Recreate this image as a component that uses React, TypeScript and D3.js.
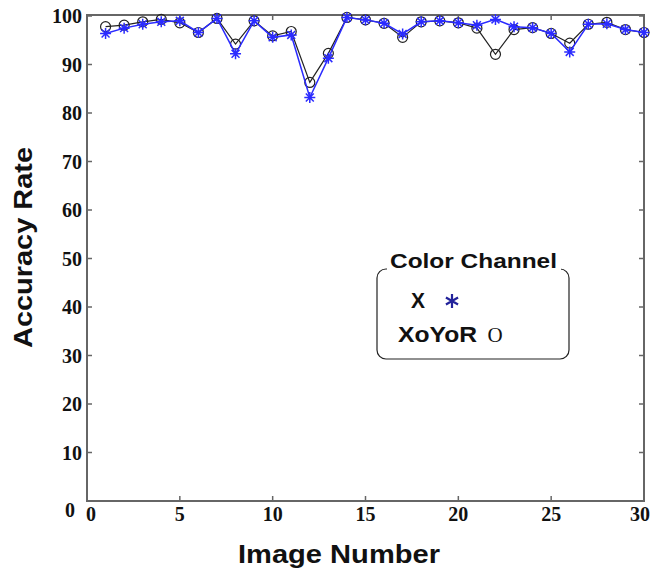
import * as d3 from "d3";

const imageNumbers = d3.range(1, 31);
// "X" colour channel (blue asterisks)
const xChannel = [96.4, 97.5, 98.3, 98.8, 99.0, 96.6, 99.5, 92.2, 99.0, 95.6, 96.1, 83.2, 91.3, 99.7, 99.2,
  98.5, 96.3, 98.8, 99.0, 98.6, 98.1, 99.3, 97.8, 97.6, 96.4, 92.6, 98.3, 98.4, 97.2, 96.6];
// "XoYoR" colour channel (black circles)
const xoyorChannel = [97.8, 98.1, 98.8, 99.3, 98.6, 96.6, 99.5, 94.2, 99.0, 95.9, 96.8, 86.3, 92.3, 99.7, 99.2,
  98.5, 95.6, 98.8, 99.0, 98.6, 97.5, 92.1, 97.2, 97.6, 96.4, 94.4, 98.3, 98.7, 97.2, 96.6];
const xTicks = [0, 5, 10, 15, 20, 25, 30];
const yTicks = [0, 10, 20, 30, 40, 50, 60, 70, 80, 90, 100];

const W = 651, H = 569;
const left = 87, right = 644, top = 15, bottom = 501;

const App = () => {
  const x = d3.scaleLinear().domain([0, 30]).range([left, right]);
  const y = d3.scaleLinear().domain([0, 100]).range([bottom, top + 1]);

  const line = d3.line<number>()
    .x((_, i) => x(imageNumbers[i]))
    .y((d) => y(d));

  const blue = "#2b2bff";
  const axisColor = "#666";
  const tick = 5;

  // matlab style '*' marker: plus + cross
  const star = (cx: number, cy: number, r: number) => {
    const d = r * 0.72;
    return `M${cx - r},${cy}L${cx + r},${cy}M${cx},${cy - r}L${cx},${cy + r}` +
      `M${cx - d},${cy - d}L${cx + d},${cy + d}M${cx - d},${cy + d}L${cx + d},${cy - d}`;
  };
  // six armed asterisk used in the legend
  const asterisk = (cx: number, cy: number, r: number) => {
    const a = r * Math.cos(Math.PI / 6), b = r * Math.sin(Math.PI / 6);
    return `M${cx},${cy - r}L${cx},${cy + r}M${cx - a},${cy - b}L${cx + a},${cy + b}M${cx - a},${cy + b}L${cx + a},${cy - b}`;
  };

  return (
    <svg width={W} height={H} style={{ position: "absolute", left: 0, top: 0, background: "#fff" }}>
      {/* ticks on all four sides */}
      {yTicks.map((t) => (
        <g key={"y" + t} stroke={axisColor} strokeWidth={1.5}>
          <line x1={left} x2={left + tick} y1={y(t)} y2={y(t)} />
          <line x1={right} x2={right - tick} y1={y(t)} y2={y(t)} />
        </g>
      ))}
      {xTicks.map((t) => (
        <g key={"x" + t} stroke={axisColor} strokeWidth={1.5}>
          <line x1={x(t)} x2={x(t)} y1={bottom} y2={bottom - tick} />
          <line x1={x(t)} x2={x(t)} y1={top} y2={top + tick} />
        </g>
      ))}
      <rect x={left} y={top} width={right - left} height={bottom - top} fill="none" stroke={axisColor} strokeWidth={2} />

      {/* tick labels */}
      <g fontFamily="'Liberation Serif', 'Times New Roman', serif" fontWeight="bold" fontSize={20} fill="#111">
        {yTicks.map((t) => (
          <text key={"yl" + t} x={t === 0 ? 75 : 82} y={y(t) + (t === 0 ? 16 : 7)} textAnchor="end">
            {t}
          </text>
        ))}
        {xTicks.map((t) => (
          <text key={"xl" + t} x={x(t) + (t === 0 ? 4 : t === 30 ? -4 : 0)} y={521} textAnchor="middle">
            {t}
          </text>
        ))}
      </g>

      {/* axis titles */}
      <text x={238} y={563} fontFamily="'Liberation Sans', Arial, sans-serif" fontWeight="bold" fontSize={26}
        textLength={202} lengthAdjust="spacingAndGlyphs" fill="#111">
        Image Number
      </text>
      <text transform={`translate(32,348) rotate(-90)`} fontFamily="'Liberation Sans', Arial, sans-serif"
        fontWeight="bold" fontSize={26} textLength={201} lengthAdjust="spacingAndGlyphs" fill="#111">
        Accuracy Rate
      </text>

      {/* XoYoR series */}
      <path d={line(xoyorChannel) ?? ""} fill="none" stroke="#222" strokeWidth={1.2} />
      {xoyorChannel.map((v, i) => (
        <circle key={"c" + i} cx={x(imageNumbers[i])} cy={y(v)} r={5} fill="none" stroke="#222" strokeWidth={1.2} />
      ))}

      {/* X series */}
      <path d={line(xChannel) ?? ""} fill="none" stroke={blue} strokeWidth={1.5} />
      {xChannel.map((v, i) => (
        <path key={"s" + i} d={star(x(imageNumbers[i]), y(v), 5.5)} stroke={blue} strokeWidth={1.5} />
      ))}

      {/* legend */}
      <rect x={377} y={269} width={192} height={90} rx={9} fill="#fff" stroke="#222" strokeWidth={1.2} />
      <rect x={387} y={255} width={174} height={20} fill="#fff" />
      <g fontFamily="'Liberation Sans', Arial, sans-serif" fill="#111" fontWeight="bold">
        <text x={390} y={268} fontSize={20} textLength={167} lengthAdjust="spacingAndGlyphs">
          Color Channel
        </text>
        <text x={411} y={308} fontSize={22} textLength={14} lengthAdjust="spacingAndGlyphs">
          X
        </text>
        <text x={398} y={342} fontSize={22} textLength={79} lengthAdjust="spacingAndGlyphs">
          XoYoR
        </text>
      </g>
      <path d={asterisk(452, 301, 7)} stroke="#22229a" strokeWidth={2.2} />
      <text x={495} y={342} textAnchor="middle" fontFamily="'Liberation Serif', serif" fontSize={21} fill="#111">
        O
      </text>
    </svg>
  );
};

export default App;
